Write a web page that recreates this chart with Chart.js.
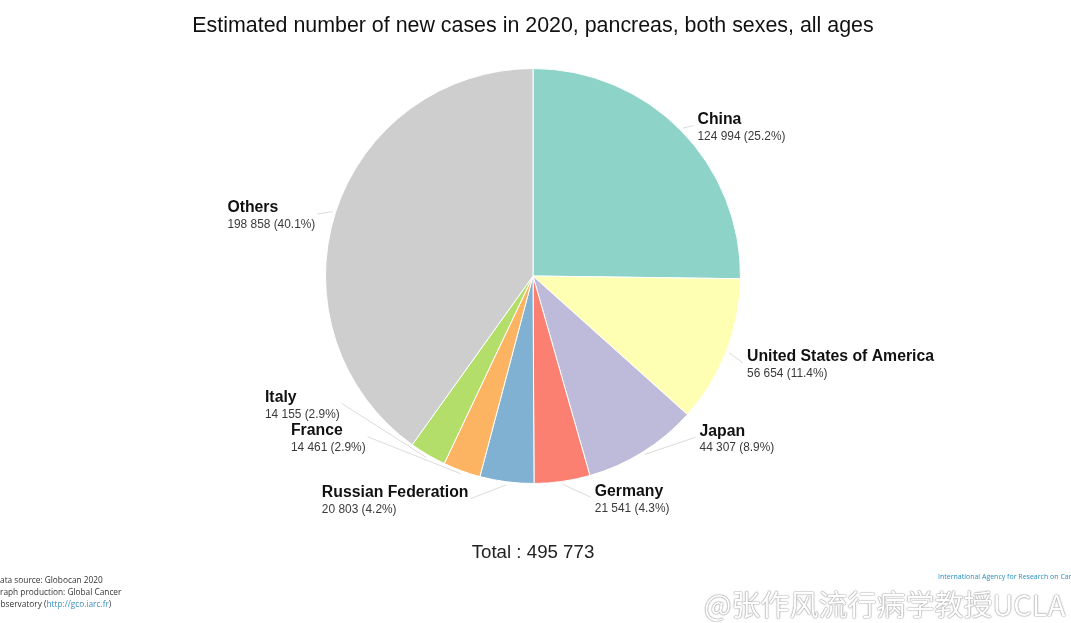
<!DOCTYPE html>
<html>
<head>
<meta charset="utf-8">
<script src="https://cdn.jsdelivr.net/npm/chart.js@4.4.1/dist/chart.umd.min.js"></script>
<style>
    html, body { margin: 0; padding: 0; background: #fff; }
    body { width: 1071px; height: 623px; position: relative; overflow: hidden; font-family: "Liberation Sans", Arial, sans-serif; }
    #chartWrap { position: absolute; left: 0; top: 0; width: 1071px; height: 623px; }
    .title { position: absolute; top: 13px; left: 0; width: 1066px; text-align: center; font-size: 21.4px; color: #111; }
    .total { position: absolute; top: 541px; left: 0; width: 1066px; text-align: center; font-size: 18.7px; color: #222; }
    .source { position: absolute; left: -6px; top: 574px; font-family: "Open Sans", sans-serif; font-size: 8.3px; line-height: 12px; color: #333; }
    .source a { color: #3b8fc0; text-decoration: none; }
    .iarc { position: absolute; left: 938px; top: 572px; font-family: "Open Sans", sans-serif; font-size: 7px; color: #2a8fc4; white-space: nowrap; }
    .watermark { position: absolute; left: 704px; top: 582px; font-family: "Noto Sans CJK SC", sans-serif; font-size: 29px; color: #fff; white-space: nowrap;
        text-shadow: 0 0 1px #888, 0 0 1px #888, 0 0 2px #aaa; opacity: 0.9; }
</style>
</head>
<body>
<div id="chartWrap"><canvas id="pieChart" width="1071" height="623"></canvas></div>
<div class="title">Estimated number of new cases in 2020, pancreas, both sexes, all ages</div>
<div class="total" id="totalText"></div>
<div class="source">Data source: Globocan 2020<br>Graph production: Global Cancer<br>Observatory (<a>http://gco.iarc.fr</a>)</div>
<div class="iarc">International Agency for Research on Cancer</div>
<div class="watermark">@张作风流行病学教授UCLA</div>
<script>
// Datos del gráfico
const countries = ['China', 'United States of America', 'Japan', 'Germany', 'Russian Federation', 'France', 'Italy', 'Others'];
const newCases = [124994, 56654, 44307, 21541, 20803, 14461, 14155, 198858];
const sliceColors = ['#8dd3c7', '#ffffb3', '#bebada', '#fb8072', '#80b1d3', '#fdb462', '#b3de69', '#cecece'];

// Ajustes manuales de las etiquetas (desplazamiento desde el ancla calculada)
const labelNudge = [[0, 2], [0, -1], [43, -36], [26, -8], [-32, -7], [-86, -57], [-75, -73], [1, 1]];

const total = newCases.reduce((a, b) => a + b, 0);

function fmt(n) {
    return String(n).replace(/\B(?=(\d{3})+(?!\d))/g, ' ');
}

document.getElementById('totalText').textContent = 'Total : ' + fmt(total);

const NAME_FONT = 'bold 15.8px "Liberation Sans", Arial, sans-serif';
const VALUE_FONT = '11.9px "Liberation Sans", Arial, sans-serif';

// Plugin para dibujar etiquetas exteriores con líneas guía
const outerLabels = {
    id: 'outerLabels',
    afterDraw(chart) {
        const ctx = chart.ctx;
        const meta = chart.getDatasetMeta(0);
        meta.data.forEach((arc, i) => {
            const mid = (arc.startAngle + arc.endAngle) / 2;
            const r = arc.outerRadius;
            const cx = arc.x, cy = arc.y;
            const ax = cx + Math.cos(mid) * (r + 18);
            const ay = cy + Math.sin(mid) * (r + 18);
            const right = Math.cos(mid) >= 0;

            const name = chart.data.labels[i];
            const v = chart.data.datasets[0].data[i];
            const val = fmt(v) + ' (' + (v / total * 100).toFixed(1) + '%)';

            ctx.save();
            ctx.font = NAME_FONT;
            const wName = ctx.measureText(name).width;
            ctx.font = VALUE_FONT;
            const wVal = ctx.measureText(val).width;
            const w = Math.max(wName, wVal);

            const nx = labelNudge[i][0], ny = labelNudge[i][1];
            const left = right ? ax + 4 + nx : ax - 4 - w + nx;
            const yName = ay + ny;

            // Línea guía
            const ex = cx + Math.cos(mid) * (r + 3);
            const ey = cy + Math.sin(mid) * (r + 3);
            const tx = right ? left - 4 : left + w + 2;
            const ty = yName + 6;
            ctx.strokeStyle = 'rgba(190,190,190,0.55)';
            ctx.lineWidth = 1;
            ctx.beginPath();
            ctx.moveTo(ex, ey);
            ctx.lineTo(tx, ty);
            ctx.stroke();

            ctx.textBaseline = 'middle';
            ctx.textAlign = 'left';
            ctx.fillStyle = '#111';
            ctx.font = NAME_FONT;
            ctx.fillText(name, left, yName);
            ctx.fillStyle = '#3a3a3a';
            ctx.font = VALUE_FONT;
            ctx.fillText(val, left, yName + 17);
            ctx.restore();
        });
    }
};

new Chart(document.getElementById('pieChart'), {
    type: 'pie',
    data: {
        labels: countries,
        datasets: [{
            data: newCases,
            backgroundColor: sliceColors,
            borderColor: '#ffffff',
            borderWidth: 1
        }]
    },
    options: {
        responsive: false,
        animation: false,
        layout: { padding: { top: 68, bottom: 139, left: 325, right: 330 } },
        plugins: {
            legend: { display: false },
            tooltip: { enabled: false },
            title: { display: false }
        }
    },
    plugins: [outerLabels]
});
</script>
</body>
</html>
